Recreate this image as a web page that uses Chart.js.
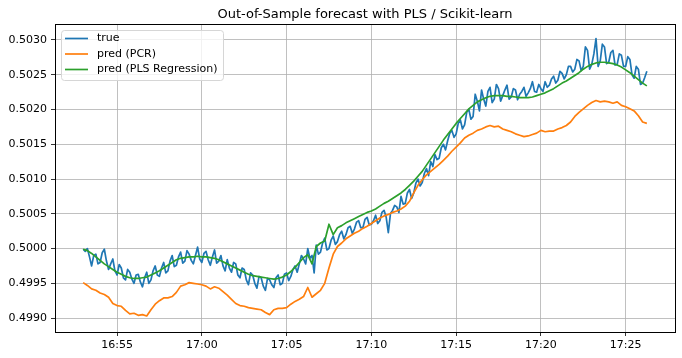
<!DOCTYPE html>
<html>
<head>
<meta charset="utf-8">
<script src="https://cdn.jsdelivr.net/npm/chart.js@4.4.1/dist/chart.umd.min.js"></script>
<style>
  html, body { margin: 0; padding: 0; background: #fff; }
  #wrap { width: 682px; height: 358px; }
</style>
</head>
<body>
<div id="wrap"><canvas id="chart" width="682" height="358"></canvas></div>
<script>
// Serie temporal: minutos desde medianoche, empezando a las 16:53
const START_MIN = 16 * 60 + 53;
const STEP_TRUE = 0.125; // un punto cada 7.5 s
const STEP_PRED = 0.25;  // un punto cada 15 s

const trueValues = [
  0.49999, 0.49996, 0.50000, 0.49988, 0.49975, 0.49990, 0.49992, 0.49978, 0.49980, 0.49994,
  0.49999, 0.49982, 0.49970, 0.49978, 0.49985, 0.49968, 0.49962, 0.49977, 0.49972, 0.49958,
  0.49955, 0.49970, 0.49966, 0.49956, 0.49950, 0.49962, 0.49963, 0.49952, 0.49945, 0.49958,
  0.49966, 0.49950, 0.49955, 0.49968, 0.49975, 0.49962, 0.49960, 0.49972, 0.49980, 0.49965,
  0.49968, 0.49982, 0.49990, 0.49974, 0.49976, 0.49988, 0.49995, 0.49979, 0.49982, 0.49997,
  0.49992, 0.49983, 0.49978, 0.49990, 0.50002, 0.49985, 0.49980, 0.49993, 0.49996, 0.49984,
  0.49976, 0.49988, 0.49998, 0.49979, 0.49982, 0.49990, 0.49975, 0.49968, 0.49984, 0.49972,
  0.49966, 0.49980, 0.49978, 0.49962, 0.49958, 0.49972, 0.49970, 0.49955, 0.49948, 0.49965,
  0.49962, 0.49950, 0.49943, 0.49960, 0.49958, 0.49946, 0.49940, 0.49957, 0.49955, 0.49948,
  0.49944, 0.49958, 0.49962, 0.49948, 0.49950, 0.49963, 0.49965, 0.49954, 0.49960, 0.49970,
  0.49975, 0.49966, 0.49978, 0.49990, 0.49985, 0.49978, 0.50000, 0.49986, 0.49990, 0.49965,
  0.50005, 0.49992, 0.49995, 0.50008, 0.50015, 0.49998, 0.50000, 0.50012, 0.50018, 0.50006,
  0.50010, 0.50020, 0.50025, 0.50014, 0.50020, 0.50030, 0.50032, 0.50022, 0.50028, 0.50038,
  0.50040, 0.50030, 0.50030, 0.50042, 0.50045, 0.50034, 0.50035, 0.50040, 0.50048, 0.50036,
  0.50040, 0.50052, 0.50055, 0.50045, 0.50023, 0.50050, 0.50055, 0.50062, 0.50060, 0.50052,
  0.50075, 0.50064, 0.50065, 0.50080, 0.50085, 0.50072, 0.50080, 0.50094, 0.50100, 0.50090,
  0.50095, 0.50108, 0.50115, 0.50105, 0.50125, 0.50118, 0.50135, 0.50128, 0.50130, 0.50145,
  0.50150, 0.50142, 0.50155, 0.50166, 0.50170, 0.50160, 0.50165, 0.50180, 0.50185, 0.50172,
  0.50178, 0.50196, 0.50200, 0.50186, 0.50190, 0.50222, 0.50212, 0.50198, 0.50228, 0.50215,
  0.50205, 0.50226, 0.50232, 0.50210, 0.50215, 0.50236, 0.50230, 0.50212, 0.50220, 0.50228,
  0.50235, 0.50215, 0.50218, 0.50230, 0.50228, 0.50214, 0.50222, 0.50226, 0.50232, 0.50219,
  0.50224, 0.50230, 0.50240, 0.50226, 0.50225, 0.50236, 0.50230, 0.50226, 0.50240, 0.50232,
  0.50235, 0.50244, 0.50248, 0.50238, 0.50242, 0.50255, 0.50252, 0.50244, 0.50250, 0.50262,
  0.50262, 0.50254, 0.50258, 0.50272, 0.50270, 0.50256, 0.50262, 0.50290, 0.50285, 0.50258,
  0.50265, 0.50280, 0.50302, 0.50262, 0.50270, 0.50294, 0.50290, 0.50266, 0.50268, 0.50282,
  0.50285, 0.50264, 0.50265, 0.50280, 0.50278, 0.50262, 0.50262, 0.50276, 0.50272, 0.50250,
  0.50245, 0.50262, 0.50258, 0.50236, 0.50238, 0.50246, 0.50255
];

const pcrValues = [
  0.49951, 0.49947, 0.49942, 0.49940, 0.49936, 0.49934, 0.49930, 0.49921, 0.49918, 0.49917,
  0.49911, 0.49906, 0.49907, 0.49904, 0.49905, 0.49903, 0.49912, 0.49920, 0.49925, 0.49929,
  0.49929, 0.49931, 0.49937, 0.49946, 0.49948, 0.49951, 0.49950, 0.49949, 0.49948, 0.49946,
  0.49942, 0.49945, 0.49943, 0.49938, 0.49933, 0.49927, 0.49921, 0.49918, 0.49917, 0.49915,
  0.49914, 0.49913, 0.49912, 0.49908, 0.49905, 0.49912, 0.49914, 0.49914, 0.49915, 0.49920,
  0.49924, 0.49927, 0.49931, 0.49944, 0.49930, 0.49935, 0.49940, 0.49950, 0.49972, 0.49992,
  0.50003, 0.50008, 0.50014, 0.50018, 0.50022, 0.50025, 0.50029, 0.50032, 0.50036, 0.50040,
  0.50044, 0.50047, 0.50049, 0.50052, 0.50054, 0.50057, 0.50061, 0.50068, 0.50080, 0.50091,
  0.50099, 0.50106, 0.50111, 0.50116, 0.50121, 0.50127, 0.50133, 0.50140, 0.50146, 0.50152,
  0.50159, 0.50163, 0.50166, 0.50170, 0.50172, 0.50175, 0.50177, 0.50175, 0.50176, 0.50172,
  0.50170, 0.50168, 0.50165, 0.50163, 0.50161, 0.50162, 0.50164, 0.50166, 0.50170, 0.50168,
  0.50169, 0.50169, 0.50172, 0.50174, 0.50177, 0.50182, 0.50190, 0.50196, 0.50201, 0.50206,
  0.50210, 0.50213, 0.50211, 0.50212, 0.50211, 0.50209, 0.50211, 0.50206, 0.50204, 0.50201,
  0.50198, 0.50191, 0.50182, 0.50180
];

const plsValues = [
  0.49999, 0.49997, 0.49993, 0.49988, 0.49983, 0.49978, 0.49974, 0.49970, 0.49966, 0.49963,
  0.49960, 0.49958, 0.49957, 0.49957, 0.49958, 0.49959, 0.49962, 0.49965, 0.49968, 0.49972,
  0.49976, 0.49980, 0.49984, 0.49986, 0.49987, 0.49988, 0.49988, 0.49989, 0.49988, 0.49988,
  0.49987, 0.49986, 0.49984, 0.49981, 0.49978, 0.49975, 0.49972, 0.49969, 0.49966, 0.49963,
  0.49961, 0.49960, 0.49959, 0.49958, 0.49957, 0.49956, 0.49957, 0.49959, 0.49962, 0.49967,
  0.49973, 0.49980, 0.49987, 0.49991, 0.49978, 0.50003, 0.50008, 0.50011, 0.50035, 0.50020,
  0.50030, 0.50033, 0.50037, 0.50040, 0.50043, 0.50046, 0.50049, 0.50052, 0.50054, 0.50057,
  0.50061, 0.50065, 0.50068, 0.50072, 0.50076, 0.50080, 0.50085, 0.50091, 0.50097, 0.50104,
  0.50111, 0.50120, 0.50129, 0.50138, 0.50147, 0.50156, 0.50164, 0.50172, 0.50180, 0.50187,
  0.50194, 0.50201, 0.50206, 0.50211, 0.50214, 0.50217, 0.50219, 0.50220, 0.50220, 0.50220,
  0.50219, 0.50219, 0.50218, 0.50217, 0.50217, 0.50217, 0.50218, 0.50220, 0.50222, 0.50224,
  0.50227, 0.50230, 0.50234, 0.50238, 0.50241, 0.50245, 0.50249, 0.50253, 0.50258, 0.50262,
  0.50265, 0.50267, 0.50268, 0.50268, 0.50267, 0.50266, 0.50264, 0.50261, 0.50257, 0.50253,
  0.50248, 0.50243, 0.50238, 0.50234
];

const seriesNames = ['true', 'pred (PCR)', 'pred (PLS Regression)'];
const seriesColors = ['#1f77b4', '#ff7f0e', '#2ca02c'];

const xTickMinutes = [1015, 1020, 1025, 1030, 1035, 1040, 1045]; // 16:55 ... 17:25
const yTickValues = [0.4990, 0.4995, 0.5000, 0.5005, 0.5010, 0.5015, 0.5020, 0.5025, 0.5030];

const FONT = "'DejaVu Sans', sans-serif";

function toPoints(values, step) {
  return values.map((v, i) => ({ x: START_MIN + i * step, y: v }));
}

function fmtTime(m) {
  const h = Math.floor(m / 60);
  const mm = Math.round(m - h * 60);
  return h + ':' + String(mm).padStart(2, '0');
}

// Marco, título y leyenda al estilo matplotlib
const mplDecor = {
  id: 'mplDecor',
  afterDraw(chart) {
    const { ctx, chartArea: a } = chart;
    ctx.save();
    ctx.strokeStyle = '#000';
    ctx.lineWidth = 1;
    ctx.strokeRect(Math.round(a.left) + 0.5, Math.round(a.top) + 0.5,
      Math.round(a.right - a.left), Math.round(a.bottom - a.top));

    ctx.fillStyle = '#000';
    ctx.font = '13px ' + FONT;
    ctx.textAlign = 'center';
    ctx.textBaseline = 'alphabetic';
    ctx.fillText('Out-of-Sample forecast with PLS / Scikit-learn', (a.left + a.right) / 2, 18);

    // leyenda
    const bx = a.left + 6, by = a.top + 6, bw = 162, bh = 50;
    ctx.beginPath();
    ctx.roundRect(bx + 0.5, by + 0.5, bw, bh, 3);
    ctx.fillStyle = 'rgba(255,255,255,0.8)';
    ctx.fill();
    ctx.strokeStyle = '#d6d6d6';
    ctx.stroke();
    ctx.font = '11px ' + FONT;
    ctx.textAlign = 'left';
    ctx.textBaseline = 'middle';
    seriesNames.forEach((name, i) => {
      const y = by + 8.5 + i * 15.5;
      ctx.strokeStyle = seriesColors[i];
      ctx.lineWidth = 1.7;
      ctx.beginPath();
      ctx.moveTo(bx + 4, y);
      ctx.lineTo(bx + 27, y);
      ctx.stroke();
      ctx.fillStyle = '#000';
      ctx.fillText(name, bx + 36, y);
    });
    ctx.restore();
  }
};

new Chart(document.getElementById('chart'), {
  type: 'line',
  data: {
    datasets: [
      { label: seriesNames[0], data: toPoints(trueValues, STEP_TRUE), borderColor: seriesColors[0], order: 3 },
      { label: seriesNames[1], data: toPoints(pcrValues, STEP_PRED), borderColor: seriesColors[1], order: 2 },
      { label: seriesNames[2], data: toPoints(plsValues, STEP_PRED), borderColor: seriesColors[2], order: 1 }
    ]
  },
  options: {
    responsive: false,
    animation: false,
    layout: { padding: { top: 24, right: 7, left: 0, bottom: 0 } },
    elements: {
      point: { radius: 0 },
      line: { borderWidth: 1.7, tension: 0, fill: false, borderJoinStyle: 'round' }
    },
    plugins: {
      legend: { display: false },
      title: { display: false },
      tooltip: { enabled: false }
    },
    scales: {
      x: {
        type: 'linear',
        min: 1011.34,
        max: 1047.91,
        afterFit: (s) => { s.height = 26; },
        afterBuildTicks: (s) => { s.ticks = xTickMinutes.map(v => ({ value: v })); },
        grid: { color: '#b0b0b0', lineWidth: 0.8, tickColor: '#000', tickLength: 4 },
        border: { display: false },
        ticks: {
          color: '#000',
          font: { family: FONT, size: 11 },
          padding: 3,
          maxRotation: 0,
          callback: (v) => fmtTime(v)
        }
      },
      y: {
        min: 0.49880,
        max: 0.50323,
        afterFit: (s) => { s.width = 55; },
        afterBuildTicks: (s) => { s.ticks = yTickValues.map(v => ({ value: v })); },
        grid: { color: '#b0b0b0', lineWidth: 0.8, tickColor: '#000', tickLength: 4 },
        border: { display: false },
        ticks: {
          color: '#000',
          font: { family: FONT, size: 11 },
          padding: 4,
          callback: (v) => v.toFixed(4)
        }
      }
    }
  },
  plugins: [mplDecor]
});
</script>
</body>
</html>
